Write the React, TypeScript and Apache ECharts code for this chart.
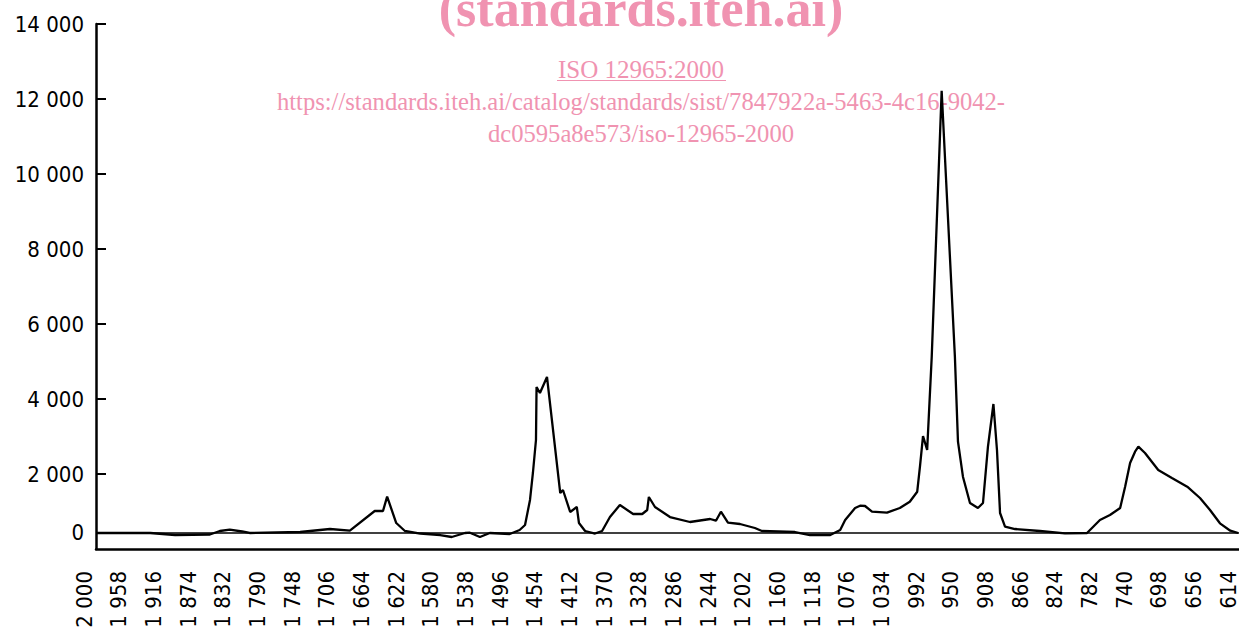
import React, { useEffect, useRef } from "react";
import * as echarts from "echarts";

// Baseline of the trace, labelled "0" on the chart
const BASELINE = 430;

const xTickLabels = [
  2000, 1958, 1916, 1874, 1832, 1790, 1748, 1706, 1664, 1622, 1580, 1538, 1496,
  1454, 1412, 1370, 1328, 1286, 1244, 1202, 1160, 1118, 1076, 1034, 992, 950,
  908, 866, 824, 782, 740, 698, 656, 614,
];
const yTickValues = [2000, 4000, 6000, 8000, 10000, 12000, 14000];

const wavenumbers = [
  1985.5, 1920, 1890, 1848, 1836, 1824, 1809, 1800, 1739, 1703,
  1679, 1649, 1639, 1634, 1623, 1612.5, 1594, 1570, 1556, 1540,
  1534, 1522, 1510, 1486, 1474, 1467.5, 1461.5, 1458, 1454.3, 1453.6,
  1449.5, 1441, 1425, 1421.7, 1413, 1405, 1402.4, 1395, 1383, 1374.5,
  1365, 1353, 1337, 1326, 1320, 1318, 1310.6, 1292.5, 1268.4, 1244,
  1237, 1231, 1222.5, 1208, 1190, 1181.5, 1141.6, 1123.5, 1099, 1087,
  1081, 1069, 1063, 1057, 1048.6, 1030.5, 1015, 1003, 994, 990.7,
  987, 982, 976.5, 964.5, 948.5, 944.8, 938.8, 930.3, 920.7, 914.6,
  908.6, 902, 897.7, 894, 888, 876, 845.8, 815.6, 789, 773.4,
  761.3, 749, 743, 737, 731, 727, 719, 703, 686.5, 668,
  652.6, 640.5, 628.5, 616, 606.5,
];
const intensities = [
  427, 427, 373, 387, 480, 515, 467, 427, 453, 533,
  488, 1013, 1013, 1395, 693, 480, 413, 373, 320, 427,
  435, 320, 427, 400, 507, 640, 1307, 2027, 2907, 4320,
  4160, 4587, 1493, 1573, 987, 1120, 693, 480, 413, 480,
  853, 1173, 933, 933, 1040, 1387, 1120, 853, 720, 800,
  755, 995, 701, 667, 560, 480, 453, 373, 373, 507,
  773, 1093, 1155, 1147, 995, 968, 1093, 1261, 1528, 2195,
  3013, 2640, 5120, 12221, 5120, 2861, 1928, 1227, 1093, 1227,
  2728, 3867, 2640, 960, 595, 533, 480, 419, 427, 773,
  907, 1093, 1661, 2293, 2595, 2728, 2560, 2107, 1893, 1661,
  1360, 1040, 685, 488, 427,
];

const titleText = "(standards.iteh.ai)";
const docTitle = "ISO 12965:2000";
const urlLine1 =
  "https://standards.iteh.ai/catalog/standards/sist/7847922a-5463-4c16-9042-";
const urlLine2 = "dc0595a8e573/iso-12965-2000";

const PINK = "#f093b1";
const AXIS_FONT = "DejaVu Sans Condensed";

function fmt(v: number): string {
  if (v >= 1000) {
    const th = Math.floor(v / 1000);
    const rest = String(v % 1000).padStart(3, "0");
    return `${th} ${rest}`;
  }
  return String(v);
}

export default function App() {
  const ref = useRef<HTMLDivElement>(null);

  useEffect(() => {
    if (!ref.current) return;
    const chart = echarts.init(ref.current, undefined, { renderer: "svg" });
    const data = wavenumbers.map((w, i) => [w, intensities[i]]);

    chart.setOption({
      animation: false,
      backgroundColor: "#ffffff",
      grid: [
        { left: 96, right: 0, top: 24, bottom: 88, containLabel: false },
        { left: 84, right: 7, top: 24, bottom: 88, containLabel: false },
      ],
      xAxis: [
        {
          gridIndex: 0,
          type: "value",
          inverse: true,
          min: 605.5,
          max: 1985.5,
          axisLine: { show: true, onZero: false, lineStyle: { color: "#000", width: 2.5 } },
          axisTick: { show: false },
          axisLabel: { show: false },
          splitLine: { show: false },
        },
        {
          gridIndex: 1,
          type: "category",
          boundaryGap: false,
          data: xTickLabels.map(fmt),
          axisLine: { show: false },
          axisTick: { show: false },
          splitLine: { show: false },
          axisLabel: {
            show: true,
            interval: 0,
            rotate: 90,
            margin: 22,
            color: "#000",
            fontFamily: AXIS_FONT,
            fontSize: 22,
          },
        },
      ],
      yAxis: [
        {
          gridIndex: 0,
          type: "value",
          min: 0,
          max: 14000,
          axisLine: { show: true, onZero: false, lineStyle: { color: "#000", width: 2.5 } },
          axisTick: {
            show: true,
            inside: true,
            length: 10,
            customValues: yTickValues,
            lineStyle: { color: "#000", width: 2 },
          },
          axisLabel: {
            show: true,
            customValues: [BASELINE, ...yTickValues],
            margin: 12,
            color: "#000",
            fontFamily: AXIS_FONT,
            fontSize: 22,
            formatter: (v: number) => (v === BASELINE ? "0" : fmt(v)),
          },
          splitLine: { show: false },
        },
        {
          gridIndex: 1,
          type: "value",
          min: 0,
          max: 1,
          show: false,
        },
      ],
      graphic: [
        {
          type: "text",
          x: 641,
          y: 8,
          z: 0,
          style: {
            text: titleText,
            font: 'bold 52px "Liberation Serif"',
            fill: PINK,
            align: "center",
            verticalAlign: "middle",
          },
        },
        {
          type: "text",
          x: 641,
          y: 69,
          z: 0,
          style: {
            text: docTitle,
            font: '25px "Liberation Serif"',
            fill: PINK,
            align: "center",
            verticalAlign: "middle",
          },
        },
        {
          type: "line",
          z: 0,
          shape: { x1: 557, y1: 80.5, x2: 726, y2: 80.5 },
          style: { stroke: PINK, lineWidth: 1.2 },
        },
        {
          type: "text",
          x: 641,
          y: 101,
          z: 0,
          style: {
            text: urlLine1,
            font: '24.6px "Liberation Serif"',
            fill: PINK,
            align: "center",
            verticalAlign: "middle",
          },
        },
        {
          type: "text",
          x: 641,
          y: 133,
          z: 0,
          style: {
            text: urlLine2,
            font: '24.6px "Liberation Serif"',
            fill: PINK,
            align: "center",
            verticalAlign: "middle",
          },
        },
      ],
      series: [
        {
          type: "line",
          xAxisIndex: 0,
          yAxisIndex: 0,
          data,
          showSymbol: false,
          symbol: "none",
          z: 5,
          lineStyle: { color: "#000", width: 2.3 },
          markLine: {
            silent: true,
            symbol: ["none", "none"],
            label: { show: false },
            lineStyle: { color: "#000", width: 1.6, type: "solid" },
            data: [{ yAxis: BASELINE }],
          },
        },
      ],
    });

    return () => chart.dispose();
  }, []);

  return (
    <div
      ref={ref}
      style={{ position: "fixed", left: 0, top: 0, width: 1239, height: 637, background: "#fff" }}
    />
  );
}
